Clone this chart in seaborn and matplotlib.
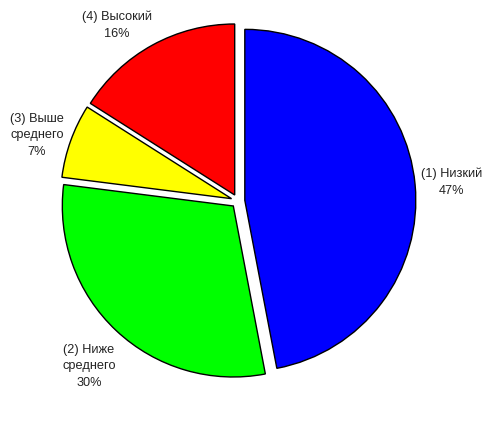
import matplotlib
matplotlib.use("Agg")
import seaborn as sns
from matplotlib import pyplot as plt

# data
labels = ["(1) Низкий", "(2) Ниже\nсреднего", "(3) Выше\nсреднего", "(4) Высокий"]
shares = [47, 30, 7, 16]
colors = ["#0000ff", "#00ff00", "#ffff00", "#ff0000"]

W, H = 482, 423
CX, CY, R = 238, 201, 171  # pie centre / radius in pixels
# where each label sits, in pixels (centre of the text block)
label_px = [(452, 182), (89, 366), (37, 135), (117, 25)]


def main():
    sns.set_theme(style="white")
    plt.rcParams["font.family"] = ["Liberation Sans", "DejaVu Sans"]

    fig = plt.figure(figsize=(W / 100, H / 100), dpi=100)
    ax = fig.add_axes([0, 0, 1, 1])

    wedges, texts = ax.pie(
        shares,
        labels=[f"{l}\n{v}%" for l, v in zip(labels, shares)],
        colors=colors,
        startangle=90,
        counterclock=False,
        explode=[0.04] * len(shares),
        labeldistance=1.2,
        wedgeprops=dict(edgecolor="black", linewidth=1),
        textprops=dict(fontsize=9.2, color="#222222"),
    )
    for t, (px, py) in zip(texts, label_px):
        t.set_ha("center")
        t.set_va("center")
        t.set_multialignment("center")
        t.set_linespacing(1.5)
        t.set_zorder(5)
        t.set_position(((px - CX) / R, (CY - py) / R))

    ax.set_xlim(-CX / R, (W - CX) / R)
    ax.set_ylim(-(H - CY) / R, CY / R)
    ax.set_aspect("auto")
    ax.axis("off")

    plt.savefig("out.png", dpi=100)
    plt.close()


if __name__ == '__main__':
    main()
